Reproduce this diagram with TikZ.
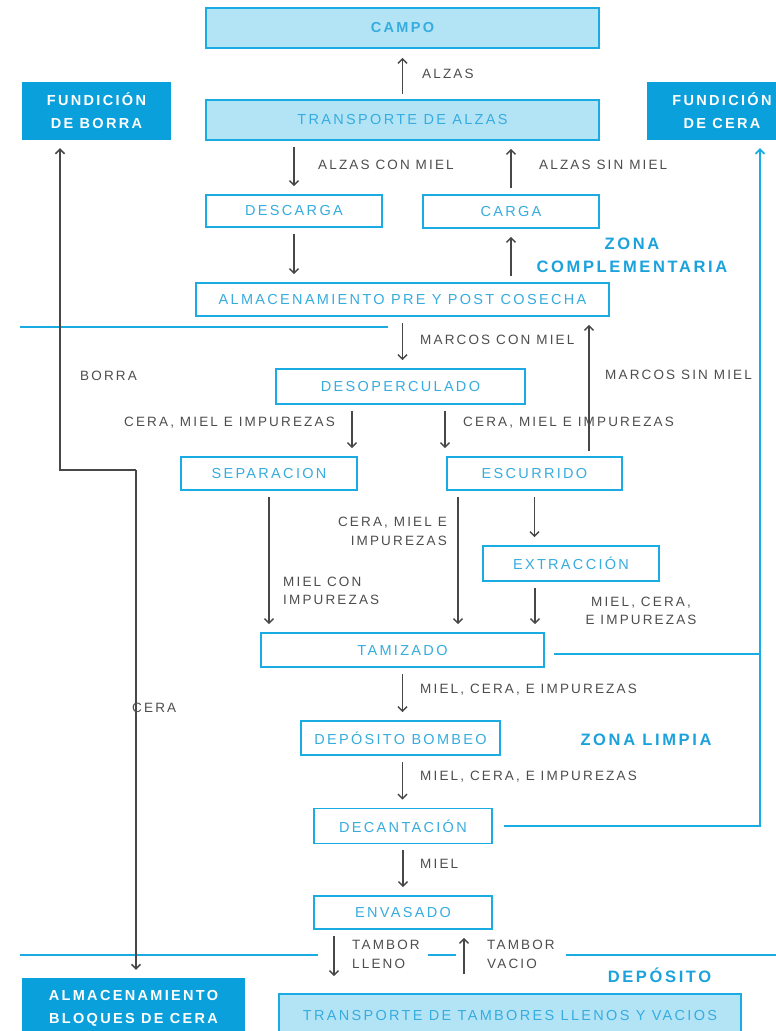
\documentclass[tikz,border=0pt]{standalone}
\usepackage{fontspec}
\usepackage{tikz}
\usetikzlibrary{arrows.meta}

\newfontfamily\diagfont{Liberation Sans}[LetterSpace=16]
\newcommand\boxfont{\diagfont\fontsize{14.5}{17}\selectfont}
\newcommand\lblfont{\diagfont\fontsize{13.5}{18.5}\selectfont}
\newcommand\headfont{\diagfont\bfseries\fontsize{14.5}{23}\selectfont}
\newcommand\zonefont{\diagfont\bfseries\fontsize{16.5}{23}\selectfont}

\definecolor{boxblue}{HTML}{1AABE3}
\definecolor{lightblue}{HTML}{B3E4F6}
\definecolor{solidblue}{HTML}{0AA0DC}
\definecolor{textblue}{HTML}{36ACDF}
\definecolor{zoneblue}{HTML}{1BA1DB}
\definecolor{arrowgray}{HTML}{474747}
\definecolor{labelgray}{HTML}{4D4D4D}

\tikzset{
  >={Straight Barb[length=4.5pt,width=9pt]},
  lightbox/.style={draw=boxblue, line width=1.6pt, fill=lightblue, text=textblue, font=\boxfont, minimum height=40pt},
  whitebox/.style={draw=boxblue, line width=1.6pt, fill=white, text=textblue, font=\boxfont},
  solidbox/.style={fill=solidblue, text=white, font=\headfont, align=center},
  flowlabel/.style={text=labelgray, font=\lblfont, inner sep=0pt},
  zonelabel/.style={text=zoneblue, font=\zonefont, align=center, inner sep=0pt},
  arr/.style={->, draw=arrowgray, line width=1.5pt, shorten <=6pt, shorten >=8pt},
  rail/.style={draw=boxblue, line width=1.7pt},
  zoneline/.style={draw=boxblue, line width=1.6pt}
}

\begin{document}
\begin{tikzpicture}[x=1pt,y=-1pt]
                \useasboundingbox (0,0) rectangle (776,1031);
                 \node[lightbox, minimum width=393pt, font=\boxfont\bfseries] (campo) at (402.5,28) {CAMPO};
                 \node[lightbox, minimum width=393pt] (transalzas) at (402.5,120) {TRANSPORTE DE ALZAS};
                 \node[solidbox, minimum width=149pt, minimum height=58pt] (fborra) at (96.5,111) {FUNDICIÓN\\DE BORRA};
                 \node[solidbox, minimum width=150pt, minimum height=58pt] (fcera) at (722,111) {FUNDICIÓN\\DE CERA};
                 \node[whitebox, minimum width=176pt, minimum height=32pt] (descarga) at (294,211) {DESCARGA};
                 \node[whitebox, minimum width=176pt, minimum height=33pt] (carga) at (511,211.5) {CARGA};
                 \node[whitebox, minimum width=413pt, minimum height=33pt] (almac) at (402.5,299.5) {ALMACENAMIENTO PRE Y POST COSECHA};
                 \node[whitebox, minimum width=249pt, minimum height=35pt] (desop) at (400.5,386.5) {DESOPERCULADO};
                 \node[whitebox, minimum width=176pt, minimum height=33pt] (separ) at (269,473.5) {SEPARACION};
                 \node[whitebox, minimum width=175pt, minimum height=33pt] (escur) at (534.5,473.5) {ESCURRIDO};
                 \node[whitebox, minimum width=176pt, minimum height=35pt] (extra) at (571,563.5) {EXTRACCIÓN};
                 \node[whitebox, minimum width=283pt, minimum height=34pt] (tamiz) at (402.5,650) {TAMIZADO};
                 \node[whitebox, minimum width=199pt, minimum height=34pt] (bombeo) at (400.5,738) {DEPÓSITO BOMBEO};
                 \node[whitebox, minimum width=178pt, minimum height=35pt] (decant) at (403,826) {DECANTACIÓN};
                 \node[whitebox, minimum width=178pt, minimum height=33pt] (envas) at (403,912.5) {ENVASADO};
                 \node[solidbox, minimum width=223pt, minimum height=60pt] (bloques) at (133.5,1008) {ALMACENAMIENTO\\BLOQUES DE CERA};
                 \node[lightbox, minimum width=462pt, minimum height=42pt] (tambores) at (510,1015) {TRANSPORTE DE TAMBORES LLENOS Y VACIOS};
                 \node[zonelabel] (zonacomp) at (632,255) {ZONA\\COMPLEMENTARIA};
                 \node[zonelabel] (zonalimpia) at (646,740) {ZONA LIMPIA};
                 \node[zonelabel] (zonadep) at (659.5,975) {DEPÓSITO};
                 \draw[zoneline] (20,327) -- (388,327);
                 \draw[zoneline] (20,955) -- (318,955);
                 \draw[zoneline] (428,955) -- (456,955);
                 \draw[zoneline] (566,955) -- (776,955);
                 \draw[arr, shorten <=5pt, shorten >=9pt] (transalzas) -- (campo);
                 \draw[arr] (transalzas.south -| descarga) -- (descarga);
                 \draw[arr] (carga) -- (transalzas.south -| carga);
                 \draw[arr] (descarga) -- (almac.north -| descarga);
                 \draw[arr] (almac.north -| carga) -- (carga);
                 \draw[arr] (almac) -- (almac |- desop.north);
                 \draw[arr, shorten <=5pt] ([xshift=54.5pt]escur.north) -- ([xshift=54.5pt]escur.north |- almac.south);
                 \draw[arr] ([xshift=-48.5pt]desop.south) -- ([xshift=-48.5pt]desop.south |- separ.north);
                 \draw[arr] ([xshift=44.5pt]desop.south) -- ([xshift=44.5pt]desop.south |- escur.north);
                 \draw[arr] (separ) -- (separ |- tamiz.north);
                 \draw[arr] ([xshift=-76.5pt]escur.south) -- ([xshift=-76.5pt]escur.south |- tamiz.north);
                 \draw[arr] (escur) -- (escur |- extra.north);
                 \draw[arr] ([xshift=-36pt]extra.south) -- ([xshift=-36pt]extra.south |- tamiz.north);
                 \draw[arr] (tamiz) -- (tamiz |- bombeo.north);
                 \draw[arr] (tamiz |- bombeo.south) -- (tamiz |- decant.north);
                 \draw[arr] (decant) -- (envas);
                 \draw[arr, shorten >=17pt] ([xshift=-69pt]envas.south) -- ([xshift=-69pt]envas.south |- tambores.north);
                 \draw[arr, shorten <=19pt] ([xshift=61pt]envas.south |- tambores.north) -- ([xshift=61pt]envas.south);
                 \coordinate (borrasplit) at (136,470);
                 \draw[arr, shorten <=0pt] (borrasplit) -| ([xshift=-36.5pt]fborra.south);
                 \draw[arr, shorten <=0pt] (borrasplit) -- (borrasplit |- bloques.north);
                 \coordinate (cerarail) at ([xshift=38pt]fcera.south);
                 \draw[rail] ([yshift=-4pt]tamiz.east) ++(9pt,0) -- ([yshift=-4pt]tamiz.east -| cerarail);
                 \draw[rail, ->, shorten >=8pt] (decant.east) ++(11pt,0) -- (decant.east -| cerarail) -- (cerarail);
                 \node[flowlabel, anchor=west] (lblalzas) at (422,74) {ALZAS};
                 \node[flowlabel, anchor=west] (lblconmiel) at (318,165) {ALZAS CON MIEL};
                 \node[flowlabel, anchor=west] (lblsinmiel) at (539,165) {ALZAS SIN MIEL};
                 \node[flowlabel, anchor=west] (lblmarcoscon) at (420,340) {MARCOS CON MIEL};
                 \node[flowlabel, anchor=west] (lblmarcossin) at (605,375) {MARCOS SIN MIEL};
                 \node[flowlabel, anchor=west] (lblborra) at (80,376) {BORRA};
                 \node[flowlabel, anchor=east] (lblcmileft) at (335,423) {CERA, MIEL E IMPUREZAS};
                 \node[flowlabel, anchor=west] (lblcmiright) at (463,423) {CERA, MIEL E IMPUREZAS};
                 \node[flowlabel, anchor=east, align=right] (lblcmiesc) at (447,531.5) {CERA, MIEL E\\IMPUREZAS};
                 \node[flowlabel, anchor=west, align=left] (lblmci) at (283,591) {MIEL CON\\IMPUREZAS};
                 \node[flowlabel, align=center] (lblmceext) at (641,611) {MIEL, CERA,\\E IMPUREZAS};
                 \node[flowlabel, anchor=west] (lblmcetam) at (420,690) {MIEL, CERA, E IMPUREZAS};
                 \node[flowlabel, anchor=west] (lblmcebom) at (420,777) {MIEL, CERA, E IMPUREZAS};
                 \node[flowlabel, anchor=west] (lblmiel) at (420,864) {MIEL};
                 \node[flowlabel, anchor=west] (lblcera) at (132,708) {CERA};
                 \node[flowlabel, anchor=west, align=left] (lbllleno) at (352,954.5) {TAMBOR\\LLENO};
                 \node[flowlabel, anchor=west, align=left] (lblvacio) at (487,954.5) {TAMBOR\\VACIO};
            \end{tikzpicture}
\end{document}
